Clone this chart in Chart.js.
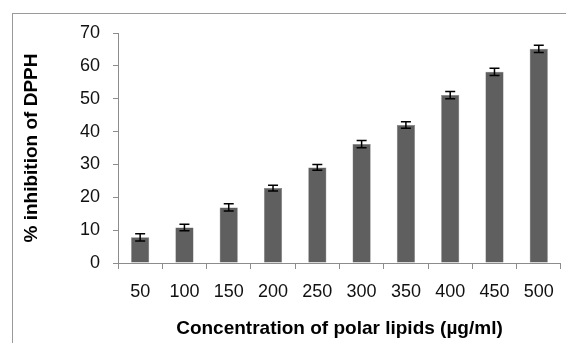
<!DOCTYPE html>
<html lang="en">
<head>
  <meta charset="UTF-8">
  <title>DPPH inhibition</title>
  <script src="https://cdn.jsdelivr.net/npm/chart.js"></script>
  <style>
    html, body {
      margin: 0;
      padding: 0;
      background: #fff;
    }
    .wrap {
      position: relative;
      width: 566px;
      height: 343px;
    }
    .frame {
      position: absolute;
      left: 12px;
      top: 13px;
      right: 0;
      bottom: 0;
      border-left: 1px solid #9a9a9a;
      border-top: 1px solid #9a9a9a;
    }
    canvas {
      position: absolute;
      left: 0;
      top: 0;
    }
  </style>
</head>
<body>
  <div class="wrap">
    <div class="frame"></div>
    <canvas id="chart" width="566" height="343"></canvas>
  </div>
  <script>
    // data
    const concentrations = ['50', '100', '150', '200', '250', '300', '350', '400', '450', '500'];
    const inhibition = [7.8, 10.8, 16.9, 22.8, 29.1, 36.2, 42.0, 51.1, 58.2, 65.2];
    const errors = [1.1, 1.0, 1.1, 0.9, 0.9, 1.1, 1.0, 1.1, 1.1, 1.1];
    const yTicks = [0, 10, 20, 30, 40, 50, 60, 70];

    const axisGray = '#8c8c8c';
    const font = 'Liberation Sans, Arial, sans-serif';

    // simple error bar drawing
    const errorBars = {
      id: 'errorBars',
      afterDatasetsDraw(chart) {
        const ctx = chart.ctx;
        const meta = chart.getDatasetMeta(0);
        const y = chart.scales.y;
        ctx.save();
        ctx.strokeStyle = '#000';
        ctx.lineWidth = 1.5;
        meta.data.forEach((bar, i) => {
          const x = bar.x;
          const top = y.getPixelForValue(inhibition[i] + errors[i]);
          const bot = y.getPixelForValue(inhibition[i] - errors[i]);
          ctx.beginPath();
          ctx.moveTo(x, top);
          ctx.lineTo(x, bot);
          ctx.moveTo(x - 5, top);
          ctx.lineTo(x + 5, top);
          ctx.moveTo(x - 5, bot);
          ctx.lineTo(x + 5, bot);
          ctx.stroke();
        });
        ctx.restore();
      }
    };

    new Chart(document.getElementById('chart'), {
      type: 'bar',
      data: {
        labels: concentrations,
        datasets: [{
          data: inhibition,
          backgroundColor: '#5f5f5f',
          borderColor: '#7a7a7a',
          borderWidth: 0.5,
          barPercentage: 0.41,
          categoryPercentage: 1
        }]
      },
      options: {
        responsive: false,
        animation: false,
        layout: { padding: { top: 33, right: 4, left: 0, bottom: 0 } },
        plugins: {
          legend: { display: false },
          tooltip: { enabled: false }
        },
        scales: {
          x: {
            afterFit(scale) { scale.height = 80; },
            grid: {
              drawOnChartArea: false,
              offset: true,
              tickLength: 6,
              color: axisGray
            },
            border: { color: axisGray, width: 1 },
            ticks: {
              padding: 12,
              color: '#111',
              font: { family: font, size: 18 }
            },
            title: {
              display: true,
              text: 'Concentration of polar lipids (µg/ml)',
              color: '#000',
              font: { family: font, size: 19, weight: 'bold' },
              padding: { top: 0, bottom: 3 }
            }
          },
          y: {
            min: 0,
            max: 70,
            afterFit(scale) { scale.width = 118; },
            afterBuildTicks(scale) {
              scale.ticks = yTicks.map(v => ({ value: v }));
            },
            grid: {
              drawOnChartArea: false,
              tickLength: 5,
              color: axisGray
            },
            border: { color: axisGray, width: 1 },
            ticks: {
              padding: 13,
              color: '#111',
              font: { family: font, size: 18 }
            },
            title: {
              display: true,
              text: '% inhibition of DPPH',
              color: '#000',
              font: { family: font, size: 19, weight: 'bold' },
              padding: { top: 20, bottom: 0 }
            }
          }
        }
      },
      plugins: [errorBars]
    });
  </script>
</body>
</html>
